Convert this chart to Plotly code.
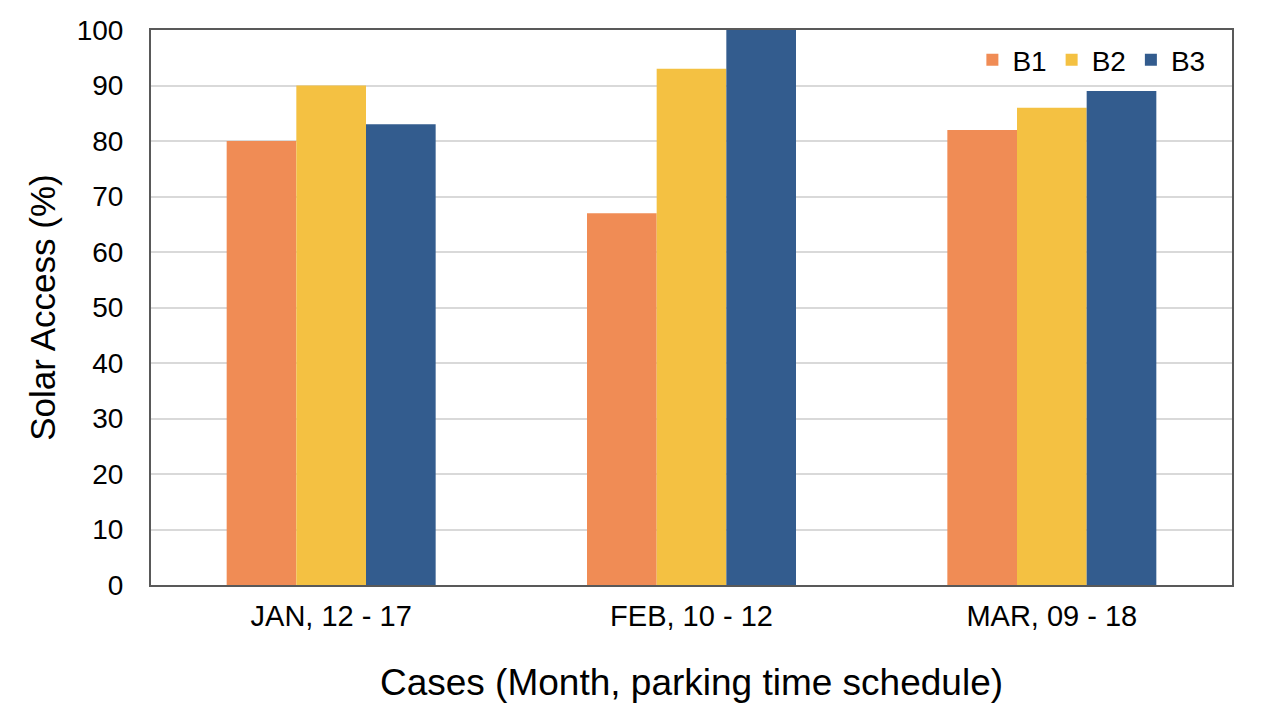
import plotly.graph_objects as go

categories = ["JAN, 12 - 17", "FEB, 10 - 12", "MAR, 09 - 18"]
series_names = ["B1", "B2", "B3"]
b1 = [80, 67, 82]
b2 = [90, 93, 86]
b3 = [83, 100, 89]
colors = ["#F08C55", "#F4C142", "#335C8E"]
y_ticks = list(range(0, 101, 10))

fig = go.Figure()
for name, vals, c in zip(series_names, [b1, b2, b3], colors):
    fig.add_trace(go.Bar(x=categories, y=vals, name=name, marker=dict(color=c, line=dict(width=0))))

font_family = "Liberation Sans, Arial, sans-serif"
fig.update_layout(
    width=1261, height=710,
    margin=dict(l=143, r=37, t=22, b=133, autoexpand=False),
    barmode="group", bargap=0.42, bargroupgap=0,
    plot_bgcolor="white", paper_bgcolor="white",
    font=dict(family=font_family, color="#000000"),
    showlegend=True,
    legend=dict(orientation="h", x=0.98, y=0.946, xanchor="right", yanchor="middle",
                font=dict(size=28, family=font_family), bgcolor="rgba(255,255,255,0)",
                itemwidth=30, traceorder="normal"),
    xaxis=dict(
        showline=True, linecolor="#595959", linewidth=2, mirror=True,
        tickfont=dict(size=29, family=font_family), ticks="", ticklabelstandoff=4,
        title=dict(text="Cases (Month, parking time schedule)", font=dict(size=37, family=font_family), standoff=38),
    ),
    yaxis=dict(
        range=[0, 100], tickvals=y_ticks,
        showline=True, linecolor="#595959", linewidth=2, mirror=True,
        showgrid=True, gridcolor="#D9D9D9", gridwidth=2,
        tickfont=dict(size=28, family=font_family), ticks="", ticklabelstandoff=20,
        title=dict(text="Solar Access (%)", font=dict(size=35, family=font_family), standoff=10),
    ),
)

fig.write_html("out.html")
